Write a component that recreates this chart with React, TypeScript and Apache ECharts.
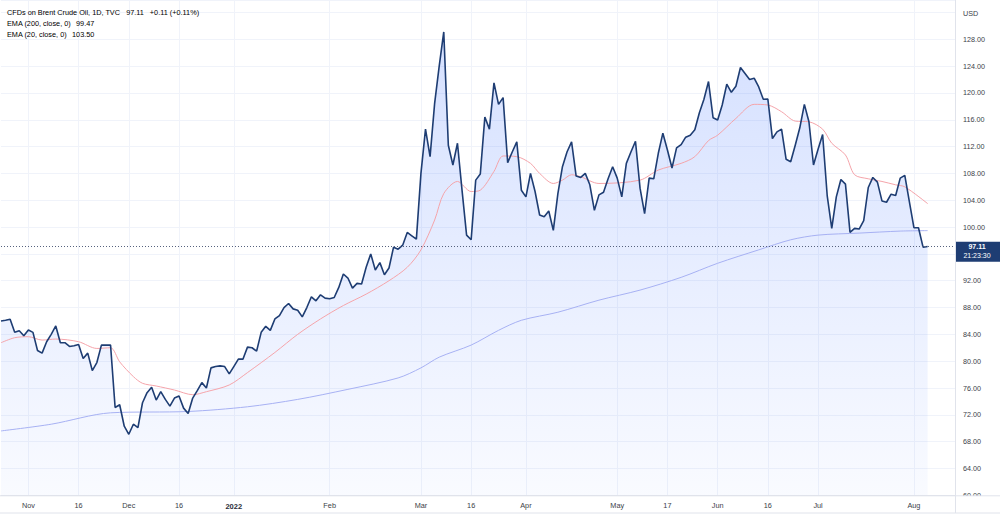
import React, { useEffect, useRef } from "react";
import * as echarts from "echarts";

// Daily closes, CFDs on Brent Crude Oil (TVC), 22 Oct 2021 – 4 Aug 2022 (trading days)
const closes: number[] = [
  86.0, 86.1, 86.25, 84.3, 84.55, 83.8, 84.65, 84.3, 81.6, 81.2,
  82.9, 84.0, 85.25, 82.75, 82.75, 82.2, 82.3, 82.5, 80.4, 81.2,
  78.6, 79.8, 82.4, 82.4, 82.4, 73.1, 73.5, 70.3, 69.1, 70.6,
  70.1, 73.8, 75.3, 76.1, 74.2, 75.45, 74.3, 73.3, 74.5, 74.8,
  73.0, 72.2, 74.5, 75.6, 76.8, 76.0, 79.0, 79.2, 79.3, 79.2,
  78.1, 79.2, 80.3, 80.3, 82.1, 82.0, 81.5, 84.3, 85.2, 84.6,
  86.3, 86.8, 88.0, 88.6, 87.8, 87.6, 86.6, 88.0, 89.6, 89.0,
  89.9, 89.4, 89.3, 89.5, 91.0, 93.0, 92.4, 90.9, 91.6, 91.5,
  94.0, 96.0, 93.6, 94.7, 92.9, 93.9, 97.0, 96.7, 97.3, 99.2,
  98.7, 98.2, 108.0, 114.6, 110.5, 118.45, 124.0, 129.1, 112.2, 109.25,
  112.5, 105.5, 98.8, 98.1, 107.0, 107.9, 116.4, 114.6, 121.5, 118.3,
  119.3, 109.6, 111.2, 112.7, 105.5, 104.5, 108.0, 105.3, 101.8, 101.55,
  102.4, 99.5, 105.0, 109.0, 111.2, 112.7, 107.6, 107.4, 108.0, 106.3,
  102.5, 104.8, 105.2, 107.2, 109.0, 107.3, 104.5, 109.5, 111.2, 112.8,
  105.8, 102.0, 107.3, 107.2, 111.0, 114.0, 111.5, 108.8, 111.8, 112.3,
  113.4, 113.7, 114.5, 117.05, 119.05, 121.7, 116.3, 115.96, 118.2, 121.3,
  120.1, 121.0, 123.8, 122.9, 122.0, 122.2, 120.9, 119.05, 119.1, 113.2,
  114.2, 114.6, 110.1, 109.75, 112.2, 114.8, 118.3, 115.7, 109.25, 111.6,
  113.8, 104.7, 99.8, 104.5, 107.1, 106.4, 99.2, 99.8, 99.7, 100.95,
  105.9, 107.4, 106.7, 103.9, 103.7, 104.9, 104.7, 107.3, 107.7, 103.8,
  99.9, 99.9, 97.0, 97.11,
];

// EMA readings [bar index, value]
const ema20Pts: number[][] = [
  [0, 82.75], [3, 83.5], [6, 83.65], [9, 83.15], [12, 83.3], [17, 82.9],
  [21, 81.9], [24, 82.0], [26, 79.9], [29, 77.7], [31, 76.7], [34, 76.3],
  [38, 75.7], [42, 75.0], [45, 75.45], [50, 76.45], [54, 78.3], [60, 81.3],
  [65, 84.0], [70, 86.3], [75, 88.3], [80, 90.0], [85, 92.0], [89, 94.0],
  [92, 96.6], [95, 101.05], [97, 105.0], [100, 106.8], [103, 105.3], [105, 105.5],
  [108, 108.3], [110, 110.6], [113, 110.5], [116, 109.5], [118, 108.0], [121, 106.5],
  [123, 107.0], [125, 107.8], [127, 107.5], [131, 106.5], [140, 107.0], [144, 108.5],
  [149, 109.5], [152, 110.5], [155, 112.9], [157, 113.7], [161, 116.2], [165, 118.3],
  [168, 118.2], [171, 117.2], [174, 115.8], [177, 115.7], [180, 114.6], [182, 112.5],
  [185, 110.75], [187, 107.8], [190, 107.2], [193, 106.8], [196, 106.3], [198, 106.0],
  [203, 103.5],
];
const ema200Pts: number[][] = [
  [0, 69.6], [11, 70.6], [24, 72.3], [41, 72.5], [54, 73.2], [65, 74.3],
  [76, 75.8], [87, 77.5], [92, 79.0], [96, 80.6], [103, 82.4], [109, 84.6],
  [114, 86.1], [122, 87.3], [131, 89.1], [140, 90.6], [149, 92.5], [157, 94.6],
  [166, 96.6], [173, 98.1], [179, 98.8], [188, 99.1], [197, 99.4], [203, 99.47],
];

const tickDates = [
  "2021-11-01", "2021-11-16", "2021-12-01", "2021-12-16", "2022-01-03", "2022-02-01",
  "2022-03-01", "2022-03-16", "2022-04-01", "2022-05-02", "2022-05-17", "2022-06-01",
  "2022-06-16", "2022-07-01", "2022-08-01",
];
const tickLabels = ["Nov", "16", "Dec", "16", "2022", "Feb", "Mar", "16", "Apr", "May", "17", "Jun", "16", "Jul", "Aug"];
const holidays = ["2022-04-15"];
const futureBars = 6;

const FONT = "'Liberation Sans', Arial, sans-serif";
const TEXT = "#3b3e48";
const GRID = "#f0f3fa";
const BORDER = "#e0e3eb";
const NAVY = "#1e3d73";

function buildDates(n: number): string[] {
  const out: string[] = [];
  const d = new Date(Date.UTC(2021, 9, 22));
  while (out.length < n) {
    const wd = d.getUTCDay();
    const s = d.toISOString().slice(0, 10);
    if (wd !== 0 && wd !== 6 && !holidays.includes(s)) out.push(s);
    d.setUTCDate(d.getUTCDate() + 1);
  }
  return out;
}

export default function App() {
  const ref = useRef<HTMLDivElement>(null);
  useEffect(() => {
    if (!ref.current) return;
    document.body.style.margin = "0";
    const chart = echarts.init(ref.current, null, { renderer: "svg" });
    const dates = buildDates(closes.length + futureBars);
    const tickIdx = new Map<number, string>();
    tickDates.forEach((d, k) => tickIdx.set(dates.indexOf(d), tickLabels[k]));
    const last = closes[closes.length - 1];
    const prev = closes[closes.length - 2];
    const chg = last - prev;
    const pct = (chg / prev) * 100;
    const sign = chg >= 0 ? "+" : "";

    chart.setOption({
      animation: false,
      backgroundColor: "#ffffff",
      grid: { left: 1, right: 45, top: 0, bottom: 20.7 },
      xAxis: {
        type: "category",
        data: dates,
        boundaryGap: false,
        axisLine: { show: true, lineStyle: { color: BORDER } },
        axisTick: { show: false },
        axisLabel: {
          interval: (i: number) => tickIdx.has(i),
          formatter: (_v: string, i: number) => {
            const l = tickIdx.get(i) || "";
            return /^\d{4}$/.test(l) ? `{b|${l}}` : l;
          },
          fontSize: 7.3,
          fontFamily: FONT,
          color: TEXT,
          margin: 7,
          rich: { b: { fontSize: 7.5, fontFamily: FONT, fontWeight: "bold", color: "#2a2e39" } },
        },
        splitLine: { show: true, interval: (i: number) => tickIdx.has(i), lineStyle: { color: GRID, width: 1 } },
      },
      yAxis: {
        type: "value",
        position: "right",
        min: 60,
        max: 133.86,
        interval: 4,
        axisLine: { show: true, lineStyle: { color: BORDER } },
        axisTick: { show: false },
        axisLabel: {
          // labels hidden where the price tag covers them, or above the top tick
          formatter: (v: number) =>
            Math.abs(v % 4) < 1e-6 && v <= 128 && Math.abs(v - last) > 2 ? v.toFixed(2) : "",
          fontSize: 7.2,
          fontFamily: FONT,
          color: TEXT,
          margin: 8,
          showMaxLabel: false,
        },
        splitLine: { show: true, lineStyle: { color: GRID, width: 1 } },
      },
      series: [
        {
          type: "line",
          name: "area",
          data: closes,
          showSymbol: false,
          silent: true,
          lineStyle: { width: 0 },
          areaStyle: {
            origin: "start",
            color: new echarts.graphic.LinearGradient(0, 0, 0, 1, [
              { offset: 0, color: "rgba(41,98,255,0.28)" },
              { offset: 1, color: "rgba(41,98,255,0.04)" },
            ]),
          },
          z: 1,
        },
        {
          type: "line",
          name: "EMA (200, close, 0)",
          data: ema200Pts,
          smooth: 0.3,
          showSymbol: false,
          lineStyle: { color: "#a7b1f3", width: 1 },
          z: 2,
        },
        {
          type: "line",
          name: "EMA (20, close, 0)",
          data: ema20Pts,
          smooth: 0.3,
          showSymbol: false,
          lineStyle: { color: "#f5a4aa", width: 1 },
          z: 2,
        },
        {
          type: "line",
          name: "close",
          data: closes,
          showSymbol: false,
          lineStyle: { color: NAVY, width: 1.6 },
          z: 3,
          markLine: {
            silent: true,
            symbol: ["none", "none"],
            label: { show: false },
            lineStyle: { type: [1, 2], color: "#56627e", width: 1 },
            data: [{ yAxis: last }],
          },
        },
      ],
    });

    const py = chart.convertToPixel({ yAxisIndex: 0 }, last) as number;
    const ema200Last = ema200Pts[ema200Pts.length - 1][1];
    const ema20Last = ema20Pts[ema20Pts.length - 1][1];
    const baseRich = { fontSize: 7.3, fontFamily: FONT, color: "#2a2e39" };

    chart.setOption({
      graphic: [
        {
          type: "text", z: 50,
          style: {
            x: 7, y: 12.5, verticalAlign: "middle",
            text: `{t|CFDs on Brent Crude Oil, 1D, TVC}{v|${last.toFixed(2)}}{v|${sign}${chg.toFixed(2)} (${sign}${pct.toFixed(2)}%)}`,
            rich: { t: baseRich, v: { ...baseRich, color: "#2c4f8f", padding: [0, 0, 0, 6] } },
          },
        },
        {
          type: "text", z: 50,
          style: {
            x: 7, y: 23.5, verticalAlign: "middle",
            text: `{t|EMA (200, close, 0)}{v|${ema200Last.toFixed(2)}}`,
            rich: { t: baseRich, v: { ...baseRich, color: "#3d5bf5", padding: [0, 0, 0, 5] } },
          },
        },
        {
          type: "text", z: 50,
          style: {
            x: 7, y: 34, verticalAlign: "middle",
            text: `{t|EMA (20, close, 0)}{v|${ema20Last.toFixed(2)}}`,
            rich: { t: baseRich, v: { ...baseRich, color: "#f23645", padding: [0, 0, 0, 5] } },
          },
        },
        {
          type: "text", z: 50,
          style: { x: 963, y: 13, verticalAlign: "middle", text: "USD", fontSize: 7.2, fontFamily: FONT, fill: TEXT },
        },
        { type: "rect", z: 60, shape: { x: 956, y: 496, width: 44, height: 17 }, style: { fill: "#ffffff" } },
        { type: "line", z: 61, shape: { x1: 955.5, y1: 490, x2: 955.5, y2: 513 }, style: { stroke: BORDER, lineWidth: 1 } },
        { type: "line", z: 61, shape: { x1: 0, y1: 495.8, x2: 1000, y2: 495.8 }, style: { stroke: BORDER, lineWidth: 1 } },
        { type: "line", z: 61, shape: { x1: 0, y1: 513, x2: 1000, y2: 513 }, style: { stroke: BORDER, lineWidth: 1 } },
        { type: "rect", z: 70, shape: { x: 956, y: py - 4.8, width: 44, height: 20 }, style: { fill: NAVY } },
        {
          type: "text", z: 71,
          style: { x: 977, y: py + 0.2, align: "center", verticalAlign: "middle", text: last.toFixed(2), fontSize: 7, fontWeight: "bold", fontFamily: FONT, fill: "#ffffff" },
        },
        {
          type: "text", z: 71,
          style: { x: 977, y: py + 9.2, align: "center", verticalAlign: "middle", text: "21:23:30", fontSize: 7, fontFamily: FONT, fill: "#ffffff" },
        },
      ],
    });

    return () => chart.dispose();
  }, []);
  return <div ref={ref} style={{ width: 1000, height: 516 }} />;
}
